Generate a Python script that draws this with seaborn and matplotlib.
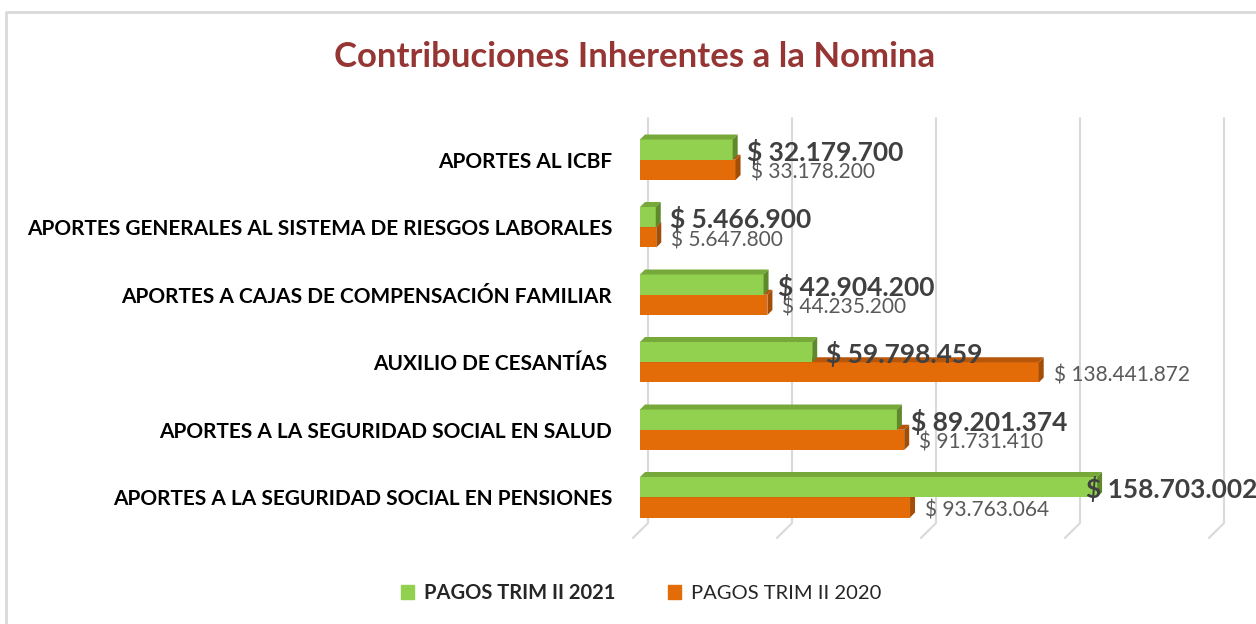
import matplotlib
matplotlib.use("Agg")
import matplotlib.pyplot as plt
import seaborn as sns
import pandas as pd
from matplotlib.patches import Polygon
from matplotlib.lines import Line2D

categories = [
    "APORTES AL ICBF",
    "APORTES GENERALES AL SISTEMA DE RIESGOS LABORALES",
    "APORTES A CAJAS DE COMPENSACIÓN FAMILIAR",
    "AUXILIO DE CESANTÍAS ",
    "APORTES A LA SEGURIDAD SOCIAL EN SALUD",
    "APORTES A LA SEGURIDAD SOCIAL EN PENSIONES",
]
pagos_2021 = [32179700, 5466900, 42904200, 59798459, 89201374, 158703002]
pagos_2020 = [33178200, 5647800, 44235200, 138441872, 91731410, 93763064]
series_names = ["PAGOS TRIM II 2021", "PAGOS TRIM II 2020"]
x_ticks = [0, 50_000_000, 100_000_000, 150_000_000, 200_000_000]

GREEN = "#92D050"
ORANGE = "#E36C09"
GREEN_TOP = "#76A83A"
GREEN_SIDE = "#5E8A2C"
ORANGE_TOP = "#B5560A"
ORANGE_SIDE = "#A24E08"
FONT = "Lato"

df = pd.DataFrame({
    "cat": categories * 2,
    "val": pagos_2021 + pagos_2020,
    "serie": [series_names[0]] * len(categories) + [series_names[1]] * len(categories),
})

sns.set_theme(style="white")
plt.rcParams["font.family"] = [FONT, "DejaVu Sans"]

W, H = 1256, 624
fig = plt.figure(figsize=(W / 100, H / 100), dpi=100)
ax = fig.add_axes([640 / W, 1 - 531 / H, 576 / W, 405 / H])
ax.patch.set_visible(False)

sns.barplot(data=df, y="cat", x="val", hue="serie", order=categories,
            hue_order=series_names, palette=[GREEN, ORANGE], orient="h",
            width=0.6, ax=ax, legend=False, saturation=1, linewidth=0)

ax.set_xlim(x_ticks[0], x_ticks[-1])
ax.set_ylim(len(categories) - 0.5, -0.5)
ax.set_xticks(x_ticks)
ax.set_xticklabels([])
ax.set_xlabel("")
ax.set_ylabel("")
for s in ax.spines.values():
    s.set_visible(False)
ax.tick_params(axis="y", length=0, pad=20)
ax.tick_params(axis="x", length=0)
for lbl in ax.get_yticklabels():
    lbl.set_fontweight("bold")
    lbl.set_fontsize(15)
    lbl.set_color("#000000")
ax.grid(False)

fig.canvas.draw()
renderer = fig.canvas.get_renderer()
tr = ax.transData
inv = tr.inverted()
D = 5  # depth in pixels

# back-plane gridlines
(bx0, by0) = ax.transAxes.transform((0, 0))
(bx1, by1) = ax.transAxes.transform((1, 1))
for t in x_ticks:
    px = tr.transform((t, 0))[0]
    fig.add_artist(Line2D([px + 8, px + 8, px - 7], [by1 + 8, by0 + 8, by0 - 7],
                          transform=None, color="#d9d9d9", lw=1.5, zorder=-1))

n = len(categories)
patches = list(ax.patches)
green_patches = patches[:n]
orange_patches = patches[n:2 * n]


def add_3d(p, top_col, side_col, z):
    x0, y0 = p.get_x(), p.get_y()
    w, h = p.get_width(), p.get_height()
    (dx0, dyb) = tr.transform((x0, y0 + h))
    (dx1, dyt) = tr.transform((x0 + w, y0))
    top = [(dx0, dyt), (dx1, dyt), (dx1 + D, dyt + D), (dx0 + D, dyt + D)]
    side = [(dx1, dyt), (dx1, dyb), (dx1 + D, dyb + D), (dx1 + D, dyt + D)]
    ax.add_patch(Polygon(inv.transform(top), closed=True, facecolor=top_col,
                         edgecolor="none", zorder=z))
    ax.add_patch(Polygon(inv.transform(side), closed=True, facecolor=side_col,
                         edgecolor="none", zorder=z))
    p.set_zorder(z)


for p in orange_patches:
    add_3d(p, ORANGE_TOP, ORANGE_SIDE, 2)
for p in green_patches:
    add_3d(p, GREEN_TOP, GREEN_SIDE, 3)


def fmt(v):
    return "$ " + f"{v:,}".replace(",", ".")


def place_label(p, v, dx, dy, **kw):
    yc = p.get_y() + p.get_height() / 2
    xd, yd = tr.transform((p.get_x() + p.get_width(), yc))
    t = ax.text(0, 0, fmt(v), va="center", ha="left", zorder=5, clip_on=False, **kw)
    wpx = t.get_window_extent(renderer).width
    x_left = min(xd + dx, W - wpx + 2)
    t.set_position(inv.transform((x_left, yd + dy)))


for p, v in zip(green_patches, pagos_2021):
    place_label(p, v, 14, -2, fontsize=19, fontweight="bold", color="#404040")
for p, v in zip(orange_patches, pagos_2020):
    place_label(p, v, 15, -3, fontsize=15, color="#595959")

fig.suptitle("Contribuciones Inherentes a la Nomina", x=635 / W, y=1 - 57 / H,
             va="center", fontsize=25, fontweight="bold", color="#963634")

handles = [plt.Rectangle((0, 0), 1, 1, color=GREEN), plt.Rectangle((0, 0), 1, 1, color=ORANGE)]
leg = fig.legend(handles, series_names, loc="center", bbox_to_anchor=(641 / W, 1 - 593 / H),
                 ncol=2, frameon=False, fontsize=14.5, handlelength=0.65, handleheight=0.65,
                 handletextpad=0.5, columnspacing=2.6)
leg.get_texts()[0].set_fontweight("bold")

# chart frame
fig.add_artist(Line2D([6, 6, W], [0, H - 12, H - 12], transform=None,
                      color="#d9d9d9", lw=2))

fig.savefig("out.png", dpi=100)
